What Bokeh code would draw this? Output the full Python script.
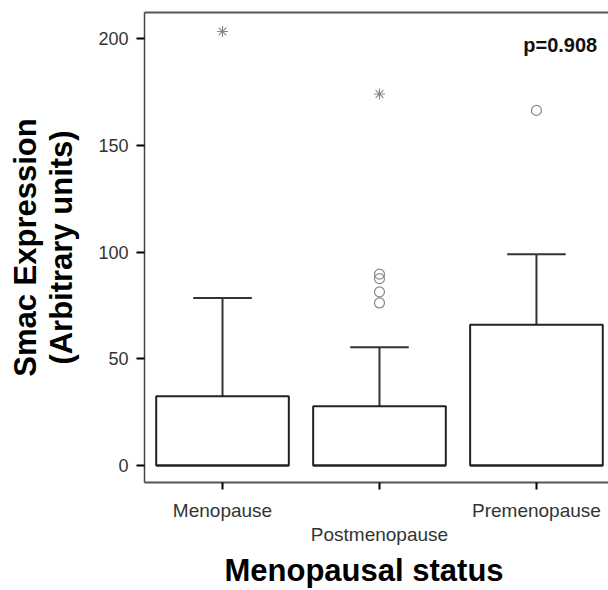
from bokeh.plotting import figure
from bokeh.models import Range1d, LinearAxis, FixedTicker, ColumnDataSource, Label, Title
from bokeh.embed import file_html
from bokeh.resources import INLINE

# ---- data ----
categories = ["Menopause", "Postmenopause", "Premenopause"]
q1_values = [0.0, 0.0, 0.0]
median_values = [0.0, 0.0, 0.0]
q3_values = [32.4, 27.7, 66.0]
upper_whiskers = [78.5, 55.4, 99.0]
outlier_groups = ["Postmenopause", "Postmenopause", "Postmenopause", "Postmenopause", "Premenopause"]
outlier_values = [89.7, 87.6, 81.4, 76.2, 166.5]
extreme_groups = ["Menopause", "Postmenopause"]
extreme_values = [203.5, 174.2]
y_ticks = [0, 50, 100, 150, 200]
p_value_text = "p=0.908"
x_title = "Menopausal status"
y_title = "Smac Expression\n(Arbitrary units)"

BOX_W = 0.845
CAP_W = 0.373

xs = list(range(len(categories)))
box_src = ColumnDataSource(dict(
    x=xs, q1=q1_values, med=median_values, q3=q3_values, up=upper_whiskers,
    x_l=[x - BOX_W / 2 for x in xs], x_r=[x + BOX_W / 2 for x in xs],
    c_l=[x - CAP_W / 2 for x in xs], c_r=[x + CAP_W / 2 for x in xs],
))
out_src = ColumnDataSource(dict(x=[categories.index(g) for g in outlier_groups], y=outlier_values))
ext_src = ColumnDataSource(dict(x=[categories.index(g) for g in extreme_groups], y=extreme_values))

p = figure(width=608, height=590, output_backend="svg", toolbar_location=None,
           x_range=Range1d(-0.497, 2.459), y_range=Range1d(-8, 212.4),
           x_axis_location=None, y_axis_location=None,
           min_border_left=144, min_border_right=0, min_border_top=12, min_border_bottom=108)
p.outline_line_color = None
p.grid.visible = False
p.background_fill_color = "white"
p.border_fill_color = "white"

FONT = "Liberation Sans"

# left axis
yaxis = LinearAxis(ticker=FixedTicker(ticks=y_ticks), axis_label=y_title)
yaxis.axis_line_color = "#444444"
yaxis.axis_line_width = 1.5
yaxis.major_tick_line_color = "black"
yaxis.major_tick_line_width = 2
yaxis.major_tick_out = 8
yaxis.major_tick_in = 0
yaxis.minor_tick_line_color = None
yaxis.major_label_text_font = FONT
yaxis.major_label_text_font_size = "18px"
yaxis.major_label_text_color = "#333333"
yaxis.major_label_standoff = 8
yaxis.axis_label_text_font = FONT
yaxis.axis_label_text_font_style = "bold"
yaxis.axis_label_text_font_size = "31px"
yaxis.axis_label_text_color = "black"
yaxis.axis_label_text_line_height = 1.05
yaxis.axis_label_standoff = 16
p.add_layout(yaxis, "left")

# bottom axis (row 1 of staggered labels)
xaxis = LinearAxis(ticker=FixedTicker(ticks=xs),
                   major_label_overrides={0: categories[0], 1: "", 2: categories[2]})
xaxis.axis_line_color = "#555555"
xaxis.axis_line_width = 2
xaxis.major_tick_line_color = "black"
xaxis.major_tick_line_width = 2
xaxis.major_tick_out = 7
xaxis.major_tick_in = 0
xaxis.minor_tick_line_color = None
xaxis.major_label_text_font = FONT
xaxis.major_label_text_font_size = "19px"
xaxis.major_label_text_color = "#333333"
xaxis.major_label_standoff = 10
p.add_layout(xaxis, "below")

# bottom axis (row 2 of staggered labels)
xaxis2 = LinearAxis(ticker=FixedTicker(ticks=[1]),
                    major_label_overrides={1: categories[1]})
xaxis2.axis_line_color = None
xaxis2.major_tick_line_color = None
xaxis2.major_tick_out = 0
xaxis2.major_tick_in = 0
xaxis2.minor_tick_line_color = None
xaxis2.major_label_text_font = FONT
xaxis2.major_label_text_font_size = "19px"
xaxis2.major_label_text_color = "#333333"
xaxis2.major_label_standoff = 0
p.add_layout(xaxis2, "below")

# x-axis title
p.add_layout(Title(text=x_title, align="left", offset=80, standoff=6,
                   text_font=FONT, text_font_style="bold", text_font_size="31px",
                   text_color="black"), "below")

# top frame line
top = LinearAxis(ticker=FixedTicker(ticks=[]))
top.axis_line_color = "#555555"
top.axis_line_width = 2
top.major_tick_out = 0
top.major_tick_in = 0
top.minor_tick_line_color = None
top.major_label_standoff = 0
top.major_label_text_font_size = "0px"
p.add_layout(top, "above")

# whiskers
p.segment(x0="x", y0="q3", x1="x", y1="up", source=box_src, line_color="#333333", line_width=2)
p.segment(x0="c_l", y0="up", x1="c_r", y1="up", source=box_src, line_color="#333333", line_width=2)
# boxes
p.quad(left="x_l", right="x_r", bottom="q1", top="q3", source=box_src,
       fill_color="white", line_color="#222222", line_width=2)
p.segment(x0="x_l", y0="med", x1="x_r", y1="med", source=box_src, line_color="#222222", line_width=2)

# outliers
p.scatter(x="x", y="y", source=out_src, marker="circle", size=10,
          fill_color=None, line_color="#888888", line_width=1.2)
p.scatter(x="x", y="y", source=ext_src, marker="asterisk", size=11,
          line_color="#888888", line_width=1.1)

p.add_layout(Label(x=2.387, y=197.2, text=p_value_text, text_align="right",
                   text_baseline="alphabetic", text_font=FONT, text_font_style="bold",
                   text_font_size="20px", text_color="#111111"))

open("out.html", "w").write(file_html(p, INLINE))
